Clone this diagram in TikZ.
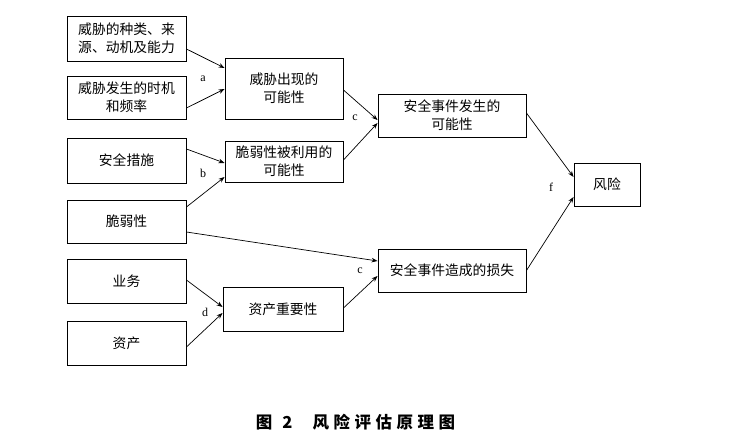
\documentclass[tikz,border=0pt]{standalone}
\usepackage{fontspec}
\setmainfont{Liberation Serif}
\newfontfamily\cjk{Noto Sans CJK SC}
\usetikzlibrary{arrows.meta}
\newcommand\capsp{\hspace{4.5pt}}
\begin{document}
\begin{tikzpicture}[x=1pt,y=-1pt,
  box/.style={draw, line width=0.9pt, inner sep=0pt, align=center,
    font=\cjk\fontsize{13.8}{18}\selectfont},
  conn/.style={line width=0.7pt, -{Stealth[length=6pt,width=4.5pt]}},
  lab/.style={font=\fontsize{12}{14}\selectfont, inner sep=0pt}]
\useasboundingbox[fill=white] (0,0) rectangle (752,446);
% left column
\node[box, minimum width=119pt, minimum height=45pt] (b1) at (126.5,38.5) {威胁的种类、来\\源、动机及能力};
\node[box, minimum width=119pt, minimum height=43pt] (b2) at (126.5,97.5) {威胁发生的时机\\和频率};
\node[box, minimum width=119pt, minimum height=45pt] (b4) at (126.5,160.5) {安全措施};
\node[box, minimum width=119pt, minimum height=43pt] (b6) at (126.5,221.5) {脆弱性};
\node[box, minimum width=119pt, minimum height=44pt] (b7) at (126.5,281) {业务};
\node[box, minimum width=119pt, minimum height=44pt] (b8) at (126.5,343) {资产};
% middle column
\node[box, minimum width=118pt, minimum height=61pt] (b3) at (284,88.5) {威胁出现的\\可能性};
\node[box, minimum width=118pt, minimum height=41pt] (b5) at (284,161.5) {脆弱性被利用的\\可能性};
\node[box, minimum width=120pt, minimum height=44pt] (b9) at (283,309) {资产重要性};
% right column
\node[box, minimum width=148pt, minimum height=43pt] (b10) at (452,115.5) {安全事件发生的\\可能性};
\node[box, minimum width=148pt, minimum height=43pt] (b11) at (452,270.5) {安全事件造成的损失};
\node[box, minimum width=66pt, minimum height=43pt] (b12) at (607,184.5) {风险};
% connectors
\draw[conn] ([yshift=-10.5pt]b1.east) -- ([yshift=20.5pt]b3.west);
\draw[conn] ([yshift=-10.5pt]b2.east) -- ([yshift=-0.5pt]b3.west);
\draw[conn] ([yshift=11.5pt]b4.east) -- ([yshift=-1.5pt]b5.west);
\draw[conn] ([yshift=14.5pt]b6.east) -- ([yshift=-15.5pt]b5.west);
\draw[conn] ([yshift=-1.5pt]b3.east) -- ([yshift=-4.5pt]b10.west);
\draw[conn] ([yshift=1.5pt]b5.east) -- ([yshift=-7.5pt]b10.west);
\draw[conn] ([yshift=-10.5pt]b6.east) -- ([yshift=9.5pt]b11.west);
\draw[conn] ([yshift=1pt]b9.east) -- ([yshift=-5.5pt]b11.west);
\draw[conn] ([yshift=1pt]b7.east) -- ([yshift=2pt]b9.west);
\draw[conn] ([yshift=-4pt]b8.east) -- ([yshift=-4pt]b9.west);
\draw[conn] ([yshift=2.5pt]b10.east) -- ([yshift=7.5pt]b12.west);
\draw[conn] ([yshift=0pt]b11.east) -- ([yshift=-12.5pt]b12.west);
% labels
\node[lab] (la) at (203,79) {a};
\node[lab] (lb) at (203,173) {b};
\node[lab] (lc1) at (355,118) {c};
\node[lab] (lc2) at (360,271) {c};
\node[lab] (ld) at (205,312) {d};
\node[lab] (lf) at (551,187) {f};
% caption
\node[font=\cjk\bfseries\fontsize{16.5}{18}\selectfont, inner sep=0pt] (cap) at (355.5,422)
  {图\hspace{10pt}2\hspace{20pt}风\capsp 险\capsp 评\capsp 估\capsp 原\capsp 理\capsp 图};
\end{tikzpicture}
\end{document}
